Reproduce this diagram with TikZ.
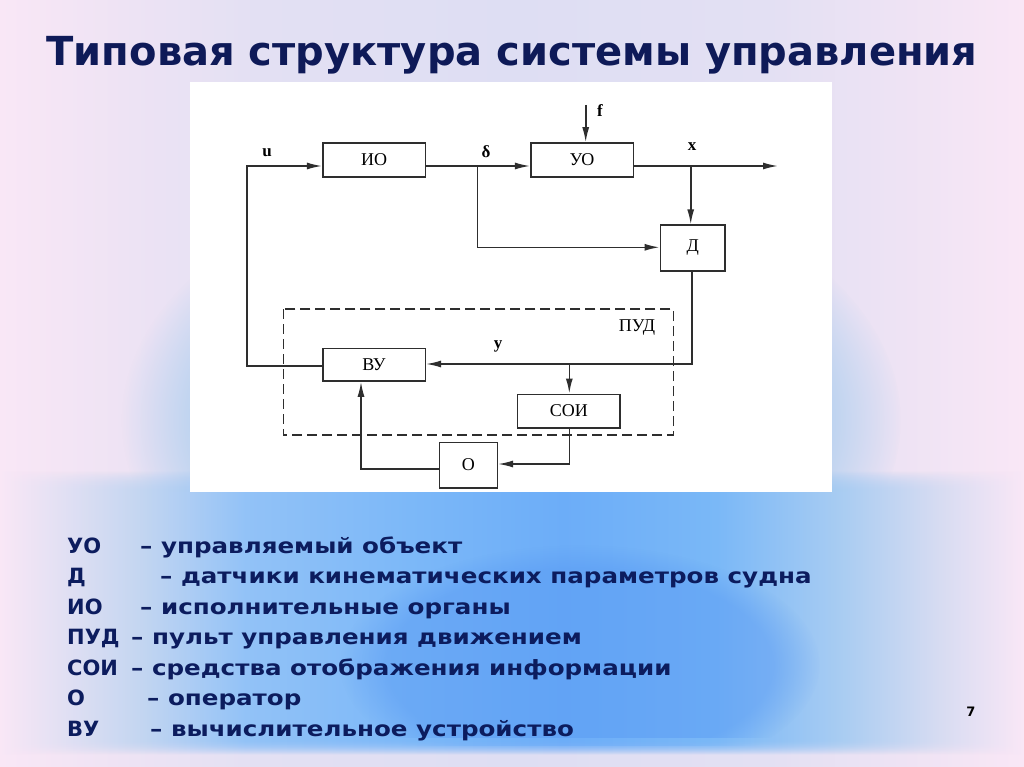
\documentclass[tikz,border=0pt]{standalone}
\usepackage{fontspec}
\setmainfont{Liberation Serif}
\newfontfamily\tfont{DejaVu Sans}
\newfontfamily\lfont[FakeStretch=1.17]{DejaVu Sans}
\usetikzlibrary{arrows.meta,fadings,calc}
\definecolor{navy}{HTML}{0E1A58}
\definecolor{lnavy}{HTML}{0C1C5E}
\definecolor{pinkbg}{HTML}{F9E7F6}
\definecolor{pinkl}{HTML}{EEE3F4}
\definecolor{lavbg}{HTML}{DEDEF3}
\definecolor{lavl}{HTML}{E3E0F3}
\definecolor{bandA}{HTML}{E2E0F3}
\definecolor{bandB}{HTML}{C2D5F1}
\definecolor{bandC}{HTML}{92C2F7}
\definecolor{bandD}{HTML}{7CB8F8}
\definecolor{bandE}{HTML}{6CADF8}
\definecolor{bandF}{HTML}{7AB8F7}
\definecolor{bandG}{HTML}{A8CCF2}
\definecolor{bandH}{HTML}{D8DCF2}
\definecolor{deepblue}{HTML}{5698F3}
\definecolor{softblue}{HTML}{BBD3F0}
\definecolor{linecol}{HTML}{2E2E2E}
% stops mapped into 25bp..75bp (TikZ fits that part to the path)
\pgfdeclarehorizontalshading{toph}{100bp}{color(0bp)=(pinkbg); color(25bp)=(pinkbg); color(31bp)=(pinkl); color(37.5bp)=(lavl); color(50bp)=(lavbg); color(62.5bp)=(lavl); color(69bp)=(pinkl); color(75bp)=(pinkbg); color(100bp)=(pinkbg)}
\pgfdeclarehorizontalshading{bandh}{100bp}{color(0bp)=(pinkbg); color(25bp)=(pinkbg); color(28bp)=(bandA); color(32bp)=(bandB); color(37bp)=(bandC); color(45bp)=(bandD); color(52.5bp)=(bandE); color(60bp)=(bandF); color(66bp)=(bandG); color(71bp)=(bandH); color(75bp)=(pinkbg); color(100bp)=(pinkbg)}
\tikzset{
  blk/.style={draw=linecol, line width=1.6pt, fill=white, rectangle, inner sep=0pt, font=\fontsize{18}{18}\selectfont},
  wire/.style={draw=linecol, line width=1.6pt},
  arr/.style={wire, -{Latex[length=15pt,width=7pt]}},
  sig/.style={font=\fontsize{17}{17}\selectfont\bfseries, inner sep=0pt},
  abbr/.style={font=\tfont\bfseries\fontsize{21}{21}\selectfont, text=lnavy, anchor=base west, inner sep=0pt},
  leg/.style={font=\lfont\bfseries\fontsize{21}{21}\selectfont, text=lnavy, anchor=base west, inner sep=0pt},
}
\begin{document}
\begin{tikzpicture}[x=1pt,y=-1pt]
\useasboundingbox (0,0) rectangle (1024,767);
% background
\shade[shading=toph] (0,0) rectangle (1024,767);
\fill[softblue, path fading=circle with fuzzy edge 20 percent] (512,420) ellipse [x radius=390, y radius=250];
\foreach \i in {0,...,21} {
  \shade[shading=bandh, opacity=\i/22] (0,470+\i) rectangle (1024,471+\i);
}
\shade[shading=bandh] (0,492) rectangle (1024,738);
\begin{scope}
\clip (0,492) rectangle (1024,745);
\fill[deepblue, path fading=circle with fuzzy edge 20 percent, opacity=0.45] (580,665) ellipse [x radius=240, y radius=120];
\end{scope}
\foreach \i in {0,...,15} {
  \shade[shading=bandh, opacity=1-\i/16] (0,738+\i) rectangle (1024,739+\i);
}
% title
\node[font=\tfont\bfseries\fontsize{40}{40}\selectfont, text=navy, inner sep=0pt] (title) at (512,55) {Типовая структура системы управления};
% diagram panel
\fill[white] (190,82) rectangle (832,492);
\draw[linecol, line width=1.4pt, dash pattern=on 10pt off 5pt] (283.3,309) rectangle (673.3,435);
\node[font=\fontsize{18}{18}\selectfont, inner sep=0pt] (pud) at (637,328) {ПУД};
\node[blk, minimum width=102.6pt, minimum height=34pt] (IO) at (374,160) {ИО};
\node[blk, minimum width=102.6pt, minimum height=34pt] (UO) at (582,160) {УО};
\node[blk, minimum width=64.7pt, minimum height=45.7pt] (D) at (692.7,248) {Д};
\node[blk, minimum width=102.6pt, minimum height=32.7pt] (VU) at (374,364.7) {ВУ};
\node[blk, minimum width=102.3pt, minimum height=33.4pt] (SOI) at (568.8,411) {СОИ};
\node[blk, minimum width=58pt, minimum height=45.4pt] (O) at (468.3,465) {О};
\coordinate (uc) at (247,166);
\coordinate (lvu) at (247,366);
\coordinate (db) at (477.3,166);
\coordinate (dl) at (477.3,247.3);
\coordinate (ftop) at (585.7,105);
\coordinate (xb) at (690.7,166);
\coordinate (xout) at (778,166);
\coordinate (yc) at (692,364);
\coordinate (yb) at (569.3,364);
\coordinate (sc) at (569.3,464);
\coordinate (oc) at (361,469);
\draw[arr] (VU.west |- lvu) -- (lvu) -- (uc) -- (IO.west |- uc);
\draw[arr] (IO.east |- uc) -- (UO.west |- uc);
\draw[arr] (db) -- (dl) -- (D.west |- dl);
\draw[arr] (ftop) -- (ftop |- UO.north);
\draw[arr] (UO.east |- uc) -- (xout);
\draw[arr] (xb) -- (xb |- D.north);
\draw[arr] (D.south -| yc) -- (yc) -- (VU.east |- yc);
\draw[arr] (yb) -- (yb |- SOI.north);
\draw[arr] (SOI.south -| sc) -- (sc) -- (O.east |- sc);
\draw[arr] (O.west |- oc) -- (oc) -- (oc |- VU.south);
\node[sig] (lu) at (267,153) {u};
\node[sig] (ld) at (486,152) {δ};
\node[sig] (lf) at (600,111) {f};
\node[sig] (lx) at (692,147) {x};
\node[sig] (ly) at (498,346) {y};
% legend
\node[abbr] (a1) at (67,553) {УО};   \node[leg] (b1) at (140,553) {– управляемый объект};
\node[abbr] (a2) at (67,583.5) {Д};  \node[leg] (b2) at (160,583.5) {– датчики кинематических параметров судна};
\node[abbr] (a3) at (67,614) {ИО};   \node[leg] (b3) at (140,614) {– исполнительные органы};
\node[abbr] (a4) at (67,644.5) {ПУД}; \node[leg] (b4) at (131,644.5) {– пульт управления движением};
\node[abbr] (a5) at (67,675) {СОИ}; \node[leg] (b5) at (131,675) {– средства отображения информации};
\node[abbr] (a6) at (67,705.5) {О};  \node[leg] (b6) at (147,705.5) {– оператор};
\node[abbr] (a7) at (67,736) {ВУ};   \node[leg] (b7) at (150,736) {– вычислительное устройство};
\node[font=\tfont\bfseries\fontsize{13}{13}\selectfont, inner sep=0pt] (pg) at (971,712) {7};
\end{tikzpicture}
\end{document}
